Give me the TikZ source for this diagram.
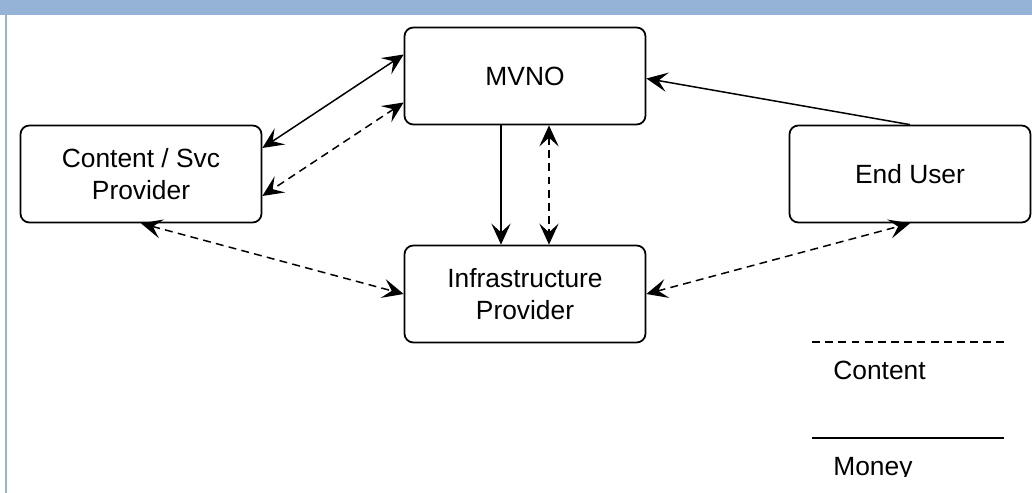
\documentclass[tikz,border=0pt]{standalone}
\usepackage{fontspec}
\setmainfont{Liberation Sans}
\usetikzlibrary{positioning,arrows.meta}
\definecolor{band}{HTML}{95B3D7}
\definecolor{ink}{HTML}{000000}

\begin{document}
\begin{tikzpicture}[
  x=0.02cm, y=-0.02cm,
  font=\fontsize{15}{18}\selectfont,
  box/.style={rounded corners=5pt, draw=ink, line width=1pt, fill=white, text=ink, align=center, minimum width=4.82cm, minimum height=1.94cm},
  lbl/.style={text=ink, inner sep=0pt},
  arr/.style={-{Stealth[length=12pt,width=11pt,inset=5pt]}, line width=0.85pt, draw=ink},
  twoarr/.style={arr, {Stealth[length=12pt,width=11pt,inset=5pt]}-{Stealth[length=12pt,width=11pt,inset=5pt]}},
  dasharr/.style={twoarr, dash pattern=on 4.5pt off 3pt},
]
\useasboundingbox (0,0) rectangle (1032,493);
% frame
\fill[band] (0,0) rectangle (1032,15);
\fill[band] (5,15) rectangle (7,493);

\node[box] (mvno) at (525,76) {MVNO};
\node[box] (csp) at (141,174) {Content / Svc\\Provider};
\node[box] (enduser) at (910,174) {End User};
\node[box] (infra) at (525,294) {Infrastructure\\Provider};

\draw[twoarr] ([yshift=0.43cm]mvno.west) -- ([yshift=0.52cm]csp.east);
\draw[dasharr] ([yshift=-0.53cm]mvno.west) -- ([yshift=-0.44cm]csp.east);
\draw[dasharr] (csp.south) -- (infra.west);
\draw[arr] ([xshift=-0.48cm]mvno.south) -- ([xshift=-0.48cm]infra.north);
\draw[dasharr] ([xshift=0.48cm]mvno.south) -- ([xshift=0.48cm]infra.north);
\draw[arr] (enduser.north) -- ([yshift=-0.05cm]mvno.east);
\draw[dasharr] (infra.east) -- (enduser.south);

% legend
\coordinate (c1) at (812,342);
\coordinate (c2) at (1004,342);
\coordinate (m1) at (812,438);
\coordinate (m2) at (1004,438);
\draw[ink, line width=0.8pt, dash pattern=on 4.5pt off 3pt] (c1) -- (c2);
\draw[ink, line width=0.8pt] (m1) -- (m2);
\node[lbl, anchor=base west] (legc) at (833,379) {Content};
\begin{scope}
\clip (812,445) rectangle (1004,476);
\node[lbl, anchor=base west] (legm) at (833,476) {Money};
\end{scope}
\end{tikzpicture}
\end{document}
